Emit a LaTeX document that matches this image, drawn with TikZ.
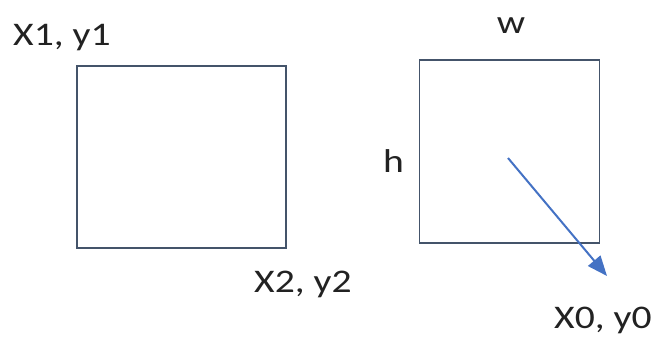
\documentclass[tikz,border=0pt]{standalone}
\usepackage{fontspec}
\setmainfont{Carlito}
\usetikzlibrary{arrows.meta}
\definecolor{boxc}{HTML}{44546A}
\definecolor{arrc}{HTML}{4472C4}
\definecolor{txt}{HTML}{222222}
\tikzset{
  boxnode/.style={draw=boxc, line width=1.8pt, inner sep=0pt},
  lbl/.style={inner sep=0pt, text=txt, font=\fontsize{33}{36}\selectfont},
}
\newcommand{\wide}[1]{\scalebox{1.2}[1]{#1}}
\begin{document}
\begin{tikzpicture}[x=1pt,y=-1pt]
\useasboundingbox (0,0) rectangle (658,338);
\node[boxnode, minimum width=209pt, minimum height=182pt] (left) at (181.5,157) {};
\node[boxnode, minimum width=180pt, minimum height=183pt] (right) at (509.5,151.5) {};
\node[lbl, anchor=base west] (p1) at (13,45) {\wide{X1, y1}};
\node[lbl, anchor=base west] (p2) at (254,292) {\wide{X2, y2}};
\node[lbl, anchor=base] (w) at (511,33) {\wide{w}};
\node[lbl, anchor=base west] (h) at (383,172) {\wide{h}};
\node[lbl, anchor=base west] (p0) at (554,328) {\wide{X0, y0}};
\coordinate (a0) at (508,158);
\coordinate (a1) at (607,276);
\draw[arrc, line width=2pt, -{Triangle[length=20pt,width=16pt]}] (a0) -- (a1);
\end{tikzpicture}
\end{document}
